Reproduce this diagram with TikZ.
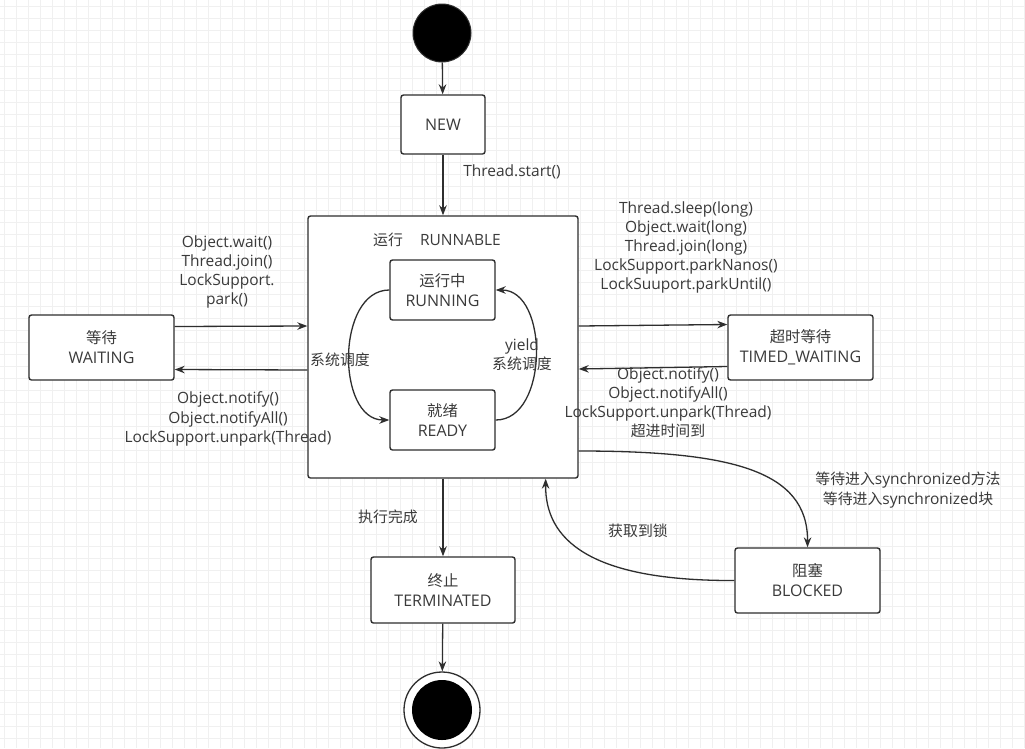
\documentclass[tikz,border=0pt]{standalone}
\usepackage{fontspec}
\setmainfont{Open Sans}
\newfontfamily\cjk{Noto Sans CJK SC}[Scale=0.96]
\usetikzlibrary{arrows.meta}
\definecolor{linec}{HTML}{2E2E2E}
\definecolor{txtc}{HTML}{3A3A3A}
\definecolor{gridc}{HTML}{F0F0F0}
\tikzset{
  statebox/.style={draw=linec, line width=1.4pt, rounded corners=2.5pt, fill=white,
    align=center, inner sep=0pt, text=txtc, font=\fontsize{16}{20}\selectfont},
  lbl/.style={align=center, inner sep=0pt, text=txtc, font=\fontsize{15.5}{19.2}\selectfont},
  conn/.style={draw=linec, line width=1.3pt, -{Stealth[length=10pt,width=7.5pt]}},
}
\begin{document}
\begin{tikzpicture}[x=1pt,y=-1pt]
\useasboundingbox (0,0) rectangle (1025,748);
\fill[white] (0,0) rectangle (1025,748);
\foreach \i in {0,...,85} {\draw[gridc, line width=0.6pt] (4+12*\i,0) -- (4+12*\i,748);}
\foreach \j in {0,...,62} {\draw[gridc, line width=0.6pt] (0,6+12*\j) -- (1025,6+12*\j);}

% start and end
\node[circle, fill=black, draw=linec, line width=1pt, minimum size=58pt, inner sep=0pt] (start) at (442,33) {};
\node[circle, draw=linec, line width=1.3pt, fill=white, minimum size=76pt, inner sep=0pt] (finish) at (442,710) {};
\node[circle, fill=black, minimum size=60pt, inner sep=0pt] (finishin) at (442,710) {};

% states
\node[statebox, minimum width=84pt, minimum height=59pt] (new) at (443,124.5) {NEW};
\node[statebox, minimum width=270pt, minimum height=262pt] (runnable) at (443,347) {};
\node[lbl, font=\fontsize{15.5}{19}\selectfont] (rtitle) at (437,240) {{\cjk 运行}\hspace{1.1em}RUNNABLE};
\node[statebox, minimum width=105pt, minimum height=60pt] (running) at (442.5,290) {{\cjk 运行中}\\RUNNING};
\node[statebox, minimum width=105pt, minimum height=60pt] (ready) at (442.5,420) {{\cjk 就绪}\\READY};
\node[statebox, minimum width=145pt, minimum height=65pt] (waiting) at (101.5,347.5) {{\cjk 等待}\\WAITING};
\node[statebox, minimum width=145pt, minimum height=65pt] (timed) at (800.5,347.5) {{\cjk 超时等待}\\TIMED\_WAITING};
\node[statebox, minimum width=145pt, minimum height=65pt] (blocked) at (807.5,580.5) {{\cjk 阻塞}\\BLOCKED};
\node[statebox, minimum width=144pt, minimum height=66pt] (term) at (443,590) {{\cjk 终止}\\TERMINATED};

% straight connectors
\draw[conn] (start) -- (new);
\draw[conn] (new) -- (runnable);
\draw[conn] (runnable) -- (term);
\draw[conn] (term) -- (finish);

\draw[conn] ([yshift=21pt]waiting.east) -- ([yshift=21pt]runnable.west);
\draw[conn] ([yshift=-23pt]runnable.west) -- ([yshift=-22pt]waiting.east);
\draw[conn] ([yshift=21pt]runnable.east) -- ([yshift=23pt]timed.west);
\draw[conn] ([yshift=-19pt]timed.west) -- ([yshift=-22pt]runnable.east);

% inner curves
\draw[conn] (running.west) .. controls (336,290) and (336,420) .. (ready.west);
\draw[conn] (ready.east) .. controls (549,420) and (549,290) .. (running.east);

% blocked curves
\draw[conn] ([yshift=-104pt]runnable.east) .. controls (730,451) and (808,470) .. (blocked.north);
\draw[conn] (blocked.west) .. controls (590,581) and (545,540) .. ([xshift=-33pt]runnable.south east);

% labels
\node[lbl] (lstart) at (512,172) {Thread.start()};
\node[lbl] (lwait) at (227,272) {Object.wait()\\Thread.join()\\LockSupport.\\park()};
\node[lbl] (lnotify) at (228,419) {Object.notify()\\Object.notifyAll()\\LockSupport.unpark(Thread)};
\node[lbl] (ltimed) at (686,247.5) {Thread.sleep(long)\\Object.wait(long)\\Thread.join(long)\\LockSupport.parkNanos()\\LockSuuport.parkUntil()};
\node[lbl] (ltnotify) at (668,402.5) {Object.notify()\\Object.notifyAll()\\LockSupport.unpark(Thread)\\{\cjk 超进时间到}};
\node[lbl] (lsched) at (340,360) {\cjk 系统调度};
\node[lbl] (lyield) at (522,355) {yield\\{\cjk 系统调度}};
\node[lbl] (lsync) at (908,490) {{\cjk 等待进入}synchronized{\cjk 方法}\\{\cjk 等待进入}synchronized{\cjk 块}};
\node[lbl] (llock) at (638,531) {\cjk 获取到锁};
\node[lbl] (ldone) at (388,517) {\cjk 执行完成};
\end{tikzpicture}
\end{document}
